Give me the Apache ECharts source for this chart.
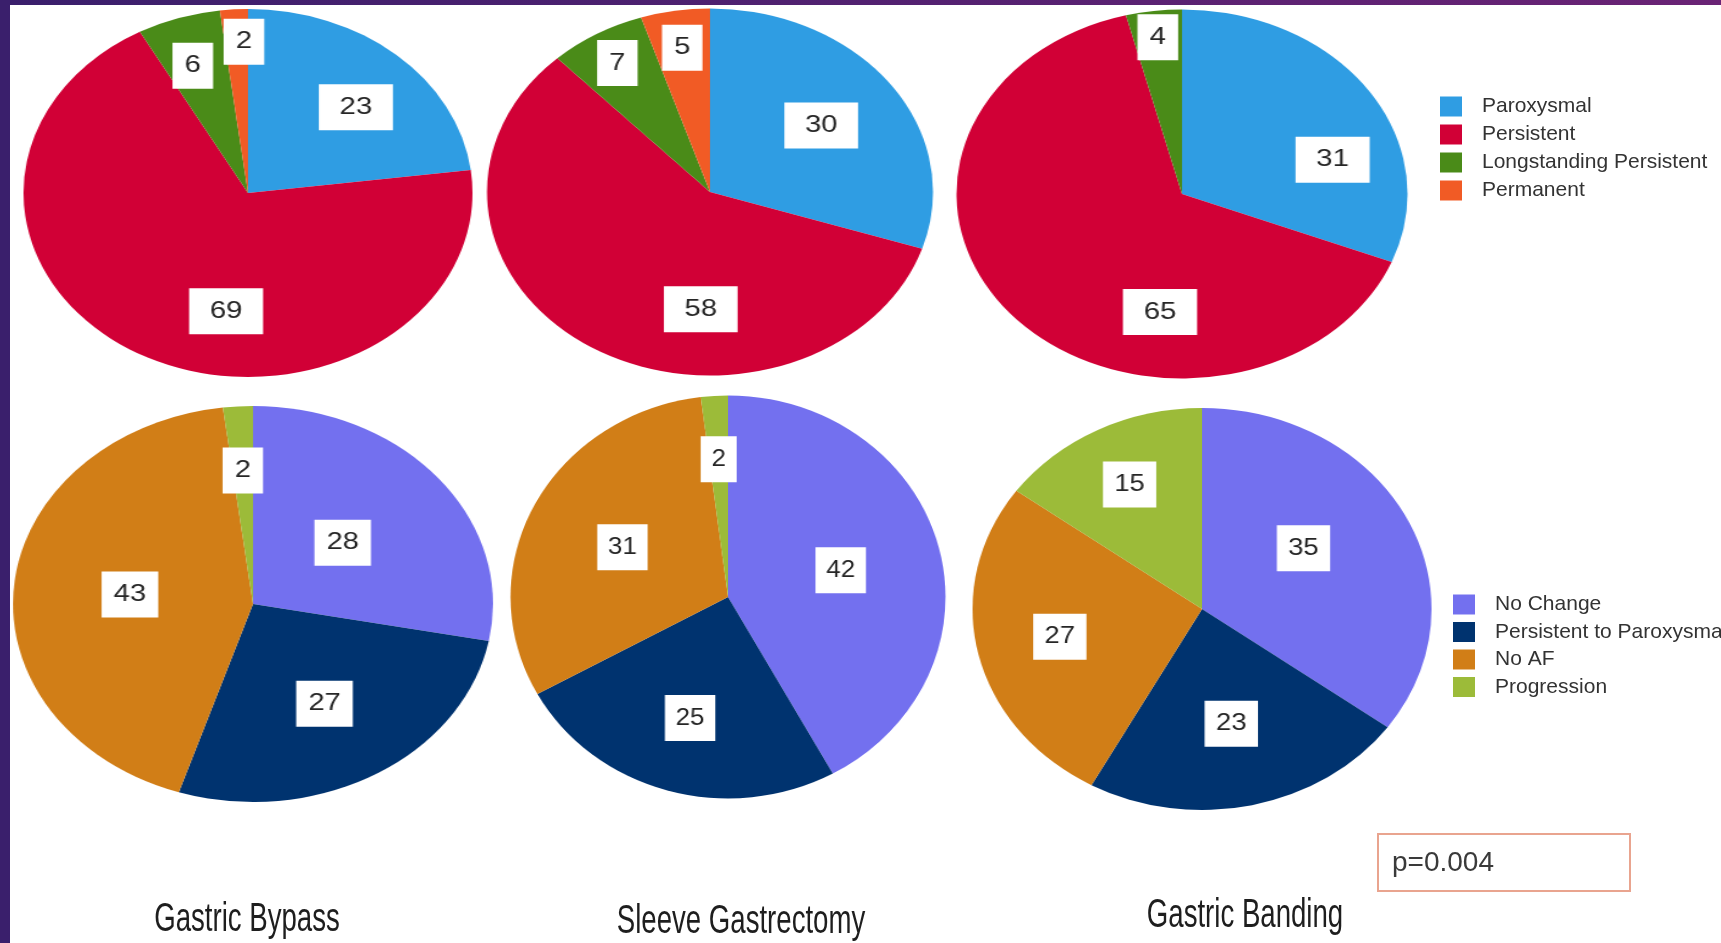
<!DOCTYPE html>
<html>
<head>
<meta charset="utf-8">
<script src="https://cdn.jsdelivr.net/npm/echarts@6/dist/echarts.min.js"></script>
<style>
html, body { margin: 0; padding: 0; background: #ffffff; overflow: hidden; }
#main { position: absolute; left: 0; top: 0; width: 1721px; height: 943px; }
.pie { position: absolute; }
</style>
</head>
<body>
<div id="main"></div>
<script>
// ---------------- DATA ----------------
const procedures = ['Gastric Bypass', 'Sleeve Gastrectomy', 'Gastric Banding'];
const afTypeCategories = ['Paroxysmal', 'Persistent', 'Longstanding Persistent', 'Permanent'];
const outcomeCategories = ['No Change', 'Persistent to Paroxysmal', 'No AF', 'Progression'];
const bypassAFType = [23, 69, 6, 2];
const sleeveAFType = [30, 58, 7, 5];
const bandingAFType = [31, 65, 4, 0];
const bypassOutcome = [28, 27, 43, 2];
const sleeveOutcome = [42, 25, 31, 2];
const bandingOutcome = [35, 23, 27, 15];
const pValueText = 'p=0.004';

// ---------------- STYLE ----------------
const afTypeColors = ['#2f9de3', '#d10036', '#4a8b18', '#f15b25'];
const outcomeColors = ['#7370ef', '#00336f', '#d17e17', '#9cbb39'];
const labelFont = 'Liberation Sans, Arial, sans-serif';

// ellipse geometry of each pie, radial position (fraction of radius) of each label,
// and small screen nudges of the label boxes (px), as placed in the original slide
const pieLayout = [
  { cx: 247.5, cy: 193, rx: 224.5, ry: 184, padX: 17, padSmall: 10,
    labelRatio: [0.67, 0.65, 0.78, 0.84], labelNudge: [[6, 9], [46, 9], [0, 12], [8, 6]] },
  { cx: 710, cy: 191.5, rx: 223, ry: 183.5, padX: 17, padSmall: 10,
    labelRatio: [0.6, 0.63, 0.8, 0.78], labelNudge: [[0, 0], [68, 17], [0, 0], [0, 0]] },
  { cx: 1181.5, cy: 193.5, rx: 225.5, ry: 184.5, padX: 17, padSmall: 10,
    labelRatio: [0.7, 0.64, 0.84, 0.84], labelNudge: [[17, 40], [89, 38], [0, 0], [0, 0]] },
  { cx: 253, cy: 604, rx: 240, ry: 198, padX: 10, padSmall: 10,
    labelRatio: [0.47, 0.57, 0.5, 0.66], labelNudge: [[0, 0], [0, 0], [0, 0], [0, 0]] },
  { cx: 727.5, cy: 596.5, rx: 217.5, ry: 201.5, padX: 10, padSmall: 10,
    labelRatio: [0.52, 0.61, 0.53, 0.67], labelNudge: [[0, 0], [0, 0], [0, 0], [0, 0]] },
  { cx: 1201.5, cy: 609, rx: 229.5, ry: 201, padX: 10, padSmall: 10,
    labelRatio: [0.54, 0.57, 0.62, 0.68], labelNudge: [[-12, -10], [0, 0], [0, 0], [0, 0]] }
];
const pieSets = [
  { cats: afTypeCategories, vals: bypassAFType, colors: afTypeColors },
  { cats: afTypeCategories, vals: sleeveAFType, colors: afTypeColors },
  { cats: afTypeCategories, vals: bandingAFType, colors: afTypeColors },
  { cats: outcomeCategories, vals: bypassOutcome, colors: outcomeColors },
  { cats: outcomeCategories, vals: sleeveOutcome, colors: outcomeColors },
  { cats: outcomeCategories, vals: bandingOutcome, colors: outcomeColors }
];

// ---------------- MAIN (legends, titles, frame) ----------------
const mainChart = echarts.init(document.getElementById('main'), null, { renderer: 'canvas' });
const titleX = [247, 741, 1245];
const titleY = [920, 922, 916];
const legendText = { fontSize: 21, color: '#333333', fontFamily: labelFont, padding: [0, 0, 0, 15] };

mainChart.setOption({
  animation: false,
  backgroundColor: '#ffffff',
  legend: [
    {
      data: afTypeCategories, orient: 'vertical', left: 1440, top: 96, padding: 0,
      itemWidth: 22, itemHeight: 20, itemGap: 7, icon: 'rect', selectedMode: false,
      textStyle: legendText
    },
    {
      data: outcomeCategories, orient: 'vertical', left: 1453, top: 594, padding: 0,
      itemWidth: 22, itemHeight: 20, itemGap: 6.5, icon: 'rect', selectedMode: false,
      textStyle: legendText
    }
  ],
  series: [
    {
      type: 'pie', name: 'AF type', radius: 0, center: [-50, -50], silent: true,
      label: { show: false }, labelLine: { show: false },
      data: afTypeCategories.map((n, i) => ({ name: n, value: bypassAFType[i], itemStyle: { color: afTypeColors[i] } }))
    },
    {
      type: 'pie', name: 'Outcome', radius: 0, center: [-50, -50], silent: true,
      label: { show: false }, labelLine: { show: false },
      data: outcomeCategories.map((n, i) => ({ name: n, value: bypassOutcome[i], itemStyle: { color: outcomeColors[i] } }))
    }
  ],
  graphic: [
    {
      type: 'rect', shape: { x: 0, y: 0, width: 1721, height: 5 }, silent: true,
      style: { fill: new echarts.graphic.LinearGradient(0, 0, 1, 0, [
        { offset: 0, color: '#3a1f6c' }, { offset: 1, color: '#6a2375' }
      ]) }
    },
    { type: 'rect', shape: { x: 0, y: 0, width: 10, height: 943 }, silent: true, style: { fill: '#3a1f6c' } },
    ...procedures.map((p, i) => ({
      type: 'text', x: titleX[i], y: titleY[i], scaleX: 0.69, silent: true,
      style: { text: p, x: 0, y: 0, align: 'center', verticalAlign: 'middle',
        font: '40px Liberation Sans, Arial, sans-serif', fill: '#1e1e1e' }
    })),
    {
      type: 'rect', shape: { x: 1378, y: 834, width: 252, height: 57 }, silent: true,
      style: { fill: '#ffffff', stroke: '#e9a48f', lineWidth: 2 }
    },
    {
      type: 'text', x: 1392, y: 863, silent: true,
      style: { text: pValueText, x: 0, y: 0, align: 'left', verticalAlign: 'middle',
        font: '28px Liberation Sans, Arial, sans-serif', fill: '#3a3a3a' }
    }
  ]
});

// ---------------- PIES ----------------
pieLayout.forEach((L, k) => {
  const set = pieSets[k];
  const sx = L.rx / L.ry;
  const W = 2 * Math.ceil(L.ry) + 40;
  const div = document.createElement('div');
  div.className = 'pie';
  div.style.width = W + 'px';
  div.style.height = W + 'px';
  div.style.left = (L.cx - W / 2) + 'px';
  div.style.top = (L.cy - W / 2) + 'px';
  div.style.transformOrigin = '50% 50%';
  div.style.transform = 'scaleX(' + sx + ')';
  document.body.appendChild(div);

  const items = set.cats
    .map((name, i) => ({ name: name, value: set.vals[i], cat: i, itemStyle: { color: set.colors[i] } }))
    .filter(d => d.value > 0);

  const labelStyle = (pad, nudge) => ({
    show: true, position: 'inside', formatter: '{c}',
    offset: [nudge[0] / sx, nudge[1]],
    fontSize: 24, lineHeight: 24, fontFamily: labelFont, color: '#262626',
    backgroundColor: '#ffffff', padding: [11, pad, 11, pad]
  });
  // one transparent overlay ring per category, sized so its 'inside' label sits at the wanted radius
  const overlays = items.map(target => ({
    type: 'pie', center: ['50%', '50%'], radius: L.ry * 2 * L.labelRatio[target.cat],
    startAngle: 90, clockwise: true, silent: true,
    avoidLabelOverlap: false,
    labelLayout: { hideOverlap: false },
    itemStyle: { color: 'rgba(0,0,0,0)', borderWidth: 0 },
    emphasis: { disabled: true },
    labelLine: { show: false },
    label: labelStyle(target.value < 10 ? L.padSmall : L.padX, L.labelNudge[target.cat]),
    data: items.map(d => ({ name: d.name, value: d.value, label: { show: d.cat === target.cat } }))
  }));

  const chart = echarts.init(div, null, { renderer: 'canvas' });
  chart.setOption({
    animation: false,
    series: [
      {
        type: 'pie', center: ['50%', '50%'], radius: L.ry,
        startAngle: 90, clockwise: true, silent: true,
        itemStyle: { borderWidth: 0 },
        emphasis: { disabled: true },
        label: { show: false }, labelLine: { show: false },
        data: items.map(d => ({ name: d.name, value: d.value, itemStyle: d.itemStyle }))
      }
    ].concat(overlays)
  });
});
</script>
</body>
</html>
